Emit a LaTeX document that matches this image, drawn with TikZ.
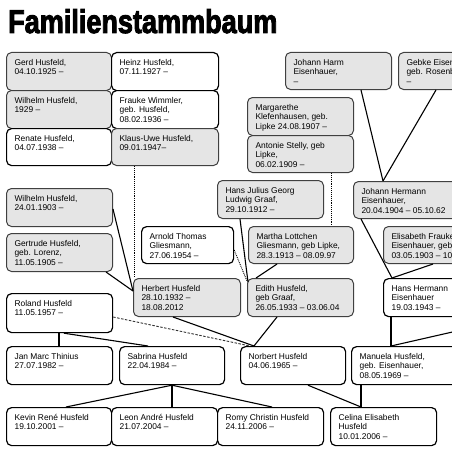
\documentclass[tikz,border=0pt]{standalone}
\usepackage{fontspec}
\setmainfont{Liberation Sans}
\newfontfamily\titlefont{Liberation Sans Bold}[FakeBold=3]
\usetikzlibrary{calc}
\tikzset{
  pw/.style={draw=black, line width=1.2pt, fill=white, rounded corners=5pt},
  pg/.style={draw=black!75, line width=1pt, fill=black!10, rounded corners=5pt},
  link/.style={line width=1.1pt},
  dotlink/.style={line width=0.9pt, densely dotted},
  dashlink/.style={line width=0.9pt, draw=black!80, dash pattern=on 2.5pt off 1.5pt},
}
\newcommand\person[7]{%
  \node[#6, anchor=north west, inner xsep=8pt, inner ysep=0pt] (#1) at (#2,#3)
  {\parbox[t][\dimexpr #5pt-#3pt\relax][t]{\dimexpr #4pt-#2pt-16pt\relax}{\raggedright\hbadness=10000\rule{0pt}{12.5pt}#7}};}
\begin{document}
\begin{tikzpicture}[x=1pt,y=-1pt,font=\fontsize{8.4}{9.7}\selectfont]
\fill[white] (0,0) rectangle (452,452);
\clip (0,0) rectangle (452,452);
\node[anchor=base west, inner sep=0pt, xscale=0.82] (title) at (8,33) {\titlefont\fontsize{33}{33}\selectfont Familienstammbaum};
% top left grid
\person{gerd}{6}{52}{111}{90}{pg}{Gerd Husfeld,\\04.10.1925 –}
\person{heinz}{111}{52}{218}{90}{pw}{Heinz Husfeld,\\07.11.1927 –}
\person{wilhA}{6}{90}{111}{128}{pg}{Wilhelm Husfeld,\\1929 –}
\person{frauke}{111}{90}{218}{128}{pw}{Frauke Wimmler,\\geb. Husfeld,\\08.02.1936 –}
\person{renate}{6}{128}{111}{165}{pw}{Renate Husfeld,\\04.07.1938 –}
\person{klaus}{111}{128}{218}{165}{pg}{Klaus-Uwe Husfeld,\\09.01.1947–}
% left column
\person{wilhB}{6}{188}{112}{226}{pg}{Wilhelm Husfeld,\\24.01.1903 –}
\person{gertrude}{6}{233}{112}{271}{pg}{Gertrude Husfeld,\\geb. Lorenz,\\11.05.1905 –}
\person{roland}{6}{293}{112}{332}{pw}{Roland Husfeld\\11.05.1957 –}
% middle
\person{margarethe}{247}{97}{353}{135}{pg}{Margarethe\\Klefenhausen, geb.\\Lipke 24.08.1907 –}
\person{antonie}{247}{135}{353}{172}{pg}{Antonie Stelly, geb\\Lipke,\\06.02.1909 –}
\person{hansjulius}{217}{180}{323}{218}{pg}{Hans Julius Georg\\Ludwig Graaf,\\29.10.1912 –}
\person{arnold}{141}{226}{233}{263}{pw}{Arnold Thomas\\Gliesmann,\\27.06.1954 –}
\person{martha}{248}{226}{353}{263}{pg}{Martha Lottchen\\Gliesmann, geb Lipke,\\28.3.1913 – 08.09.97}
\person{herbert}{133}{278}{240}{316}{pg}{Herbert Husfeld\\28.10.1932 –\\18.08.2012}
\person{edith}{247}{278}{353}{316}{pg}{Edith Husfeld,\\geb Graaf,\\26.05.1933 – 03.06.04}
% right
\person{johannharm}{285}{52}{391}{89}{pg}{Johann Harm\\Eisenhauer,\\–}
\person{gebke}{398}{52}{505}{89}{pg}{Gebke Eisenhauer,\\geb. Rosenboom,\\–}
\person{johannhermann}{353}{181}{470}{218}{pg}{Johann Hermann\\Eisenhauer,\\20.04.1904 – 05.10.62}
\person{elisabeth}{383}{226}{500}{263}{pg}{Elisabeth Frauke\\Eisenhauer, geb\\03.05.1903 – 10}
\person{hanshermann}{383}{278}{500}{316}{pw}{Hans Hermann\\Eisenhauer\\19.03.1943 –}
% rows
\person{janmarc}{6}{346}{112}{384}{pw}{Jan Marc Thinius\\27.07.1982 –}
\person{sabrina}{119}{346}{224}{384}{pw}{Sabrina Husfeld\\22.04.1984 –}
\person{norbert}{240}{346}{345}{384}{pw}{Norbert Husfeld\\04.06.1965 –}
\person{manuela}{351}{346}{470}{384}{pw}{Manuela Husfeld,\\geb. Eisenhauer,\\08.05.1969 –}
\person{kevin}{6}{407}{111}{445}{pw}{Kevin René Husfeld\\19.10.2001 –}
\person{leon}{111}{407}{217}{445}{pw}{Leon André Husfeld\\21.07.2004 –}
\person{romy}{217}{407}{323}{445}{pw}{Romy Christin Husfeld\\24.11.2006 –}
\person{celina}{330}{407}{436}{445}{pw}{Celina Elisabeth\\Husfeld\\10.01.2006 –}
\coordinate (hhspouse) at (470,328);
% connectors
\draw[dotlink] ($(klaus.south west)+(23,0)$) -- ($(herbert.north west)+(1,0)$);
\draw[link] ($(wilhB.north east)+(0,21)$) -- ($(herbert.north west)+(0,13)$);
\draw[link] ($(gertrude.south east)+(-7,0)$) -- ($(herbert.north west)+(0,13)$);
\draw[dotlink] ($(arnold.north east)+(0,24)$) -- ($(edith.north west)+(0,3)$);
\draw[link] ($(hansjulius.south west)+(23,0)$) -- ($(edith.north west)+(1,4)$);
\draw[link] ($(martha.south west)+(29,0)$) -- ($(edith.north west)+(9,0)$);
\draw[dotlink] ($(antonie.south west)+(84,0)$) -- ($(martha.north west)+(83,0)$);
\draw[link] ($(johannharm.south west)+(76,0)$) -- ($(johannhermann.north west)+(30,0)$);
\draw[link] ($(gebke.south west)+(38,0)$) -- ($(johannhermann.north west)+(30,0)$);
\draw[link] ($(johannhermann.south west)+(8,0)$) -- ($(hanshermann.north west)+(9,0)$);
\draw[link] ($(elisabeth.south west)+(50,0)$) -- ($(hanshermann.north west)+(9,0)$);
\draw[link] ($(hanshermann.south west)+(8,0)$) -- ($(manuela.north west)+(40,0)$);
\draw[link] (hhspouse) -- ($(manuela.north west)+(40,0)$);
\draw[link] ($(herbert.south west)+(40,0)$) -- ($(norbert.north west)+(14,0)$);
\draw[link] ($(edith.south west)+(30,0)$) -- ($(norbert.north west)+(14,0)$);
\draw[dashlink] ($(roland.north east)+(0,24)$) -- ($(norbert.north west)+(10,0)$);
\draw[link] ($(roland.south west)+(53,0)$) -- ($(janmarc.north west)+(53,0)$);
\draw[link] ($(roland.south west)+(58,0)$) -- ($(sabrina.north west)+(29,0)$);
\draw[link] ($(sabrina.south west)+(53,0)$) -- ($(kevin.north west)+(60,0)$);
\draw[link] ($(sabrina.south west)+(53,0)$) -- ($(leon.north west)+(61,0)$);
\draw[link] ($(sabrina.south west)+(53,0)$) -- ($(romy.north west)+(55,0)$);
\draw[link] ($(norbert.south west)+(68,0)$) -- ($(celina.north west)+(31,0)$);
\draw[link] ($(manuela.south west)+(10,0)$) -- ($(celina.north west)+(31,0)$);
\end{tikzpicture}
\end{document}
